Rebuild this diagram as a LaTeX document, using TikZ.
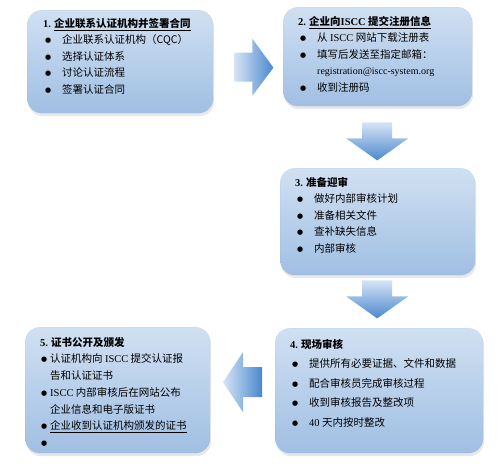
\documentclass[tikz,border=0pt]{standalone}
\usepackage{fontspec}
\setmainfont{Noto Sans CJK SC}
\newfontfamily\lat{Liberation Serif}
\newfontfamily\dejavu{DejaVu Sans}
\usepackage{xcolor}
\usetikzlibrary{positioning,calc,shadows}
\definecolor{boxtop}{RGB}{208,224,242}
\definecolor{boxbot}{RGB}{160,191,227}
\definecolor{arlight}{RGB}{214,228,245}
\definecolor{ardark}{RGB}{74,136,206}
\newcommand{\bdot}{\raisebox{1.2pt}{\fontsize{7}{7}\selectfont\dejavu ●}}
\newcommand{\bul}{\makebox[19pt][l]{\hspace{2pt}\bdot}}
\newcommand{\bulc}{\makebox[10pt][l]{\hspace{1pt}\bdot}}

\begin{document}
\begin{tikzpicture}[
  x=1pt,y=-1pt,
  box/.style={rounded corners=15pt,anchor=north west,top color=boxtop,bottom color=boxbot,
    draw=boxbot!90!black,draw opacity=.25,
    drop shadow={shadow xshift=1pt,shadow yshift=-3pt,opacity=.18}},
  txt/.style={align=left,inner sep=0pt,font=\fontsize{10.5}{16.5}\selectfont},
  harr/.style={left color=arlight,right color=ardark},
  varr/.style={top color=arlight,bottom color=ardark}
]
\useasboundingbox (0,0) rectangle (500,469);
% steps
\node[box,minimum width=186pt,minimum height=103pt] (b1) at (27,10) {};
\node[box,minimum width=189pt,minimum height=99pt] (b2) at (283,7) {};
\node[box,minimum width=195pt,minimum height=107pt] (b3) at (280,168) {};
\node[box,minimum width=208pt,minimum height=125pt] (b4) at (275,328) {};
\node[box,minimum width=185pt,minimum height=126pt] (b5) at (25,327) {};
\node[txt,below right=8pt and 16pt of b1.north west] (t1) {%
  {\bfseries\lat 1.} \underline{\bfseries 企业联系认证机构并签署合同}\\
  \bul 企业联系认证机构（CQC）\\
  \bul 选择认证体系\\
  \bul 讨论认证流程\\
  \bul 签署认证合同};
\node[txt,below right=9pt and 15pt of b2.north west] (t2) {%
  {\bfseries\lat 2.} \underline{\bfseries 企业向{\lat ISCC} 提交注册信息}\\
  \bul 从 {\lat ISCC} 网站下载注册表\\
  \bul 填写后发送至指定邮箱：\\
  \hspace{19pt}{\lat\fontsize{10}{16.5}\selectfont registration@iscc-system.org}\\
  \bul 收到注册码};
\node[txt,below right=9pt and 15pt of b3.north west] (t3) {%
  {\bfseries\lat 3.} {\bfseries 准备迎审}\\
  \bul 做好内部审核计划\\
  \bul 准备相关文件\\
  \bul 查补缺失信息\\
  \bul 内部审核};
\node[txt,font=\fontsize{10.5}{19.5}\selectfont,below right=11pt and 15pt of b4.north west] (t4) {%
  {\bfseries\lat 4.} {\bfseries 现场审核}\\
  \bul 提供所有必要证据、文件和数据\\
  \bul 配合审核员完成审核过程\\
  \bul 收到审核报告及整改项\\
  \bul {\lat 40} 天内按时整改};
\node[txt,font=\fontsize{10.5}{16.7}\selectfont,below right=10pt and 15pt of b5.north west] (t5) {%
  {\bfseries\lat 5.} {\bfseries 证书公开及颁发}\\
  \bulc 认证机构向 {\lat ISCC} 提交认证报\\
  \hspace{10pt}告和认证证书\\
  \bulc {\lat ISCC} 内部审核后在网站公布\\
  \hspace{10pt}企业信息和电子版证书\\
  \bulc \underline{企业收到认证机构颁发的证书}\\
  \bulc};
% block arrows
\coordinate (a12) at ($(b1.east)+(21,6)$);
\coordinate (a23) at ($(b2.south)+(-0.5,16)$);
\coordinate (a34) at ($(b3.south)+(-0.5,5)$);
\coordinate (a45) at ($(b4.west)+(-13,-8.5)$);
\path[harr] (a12) ++(0,-15) -- ++(18,0) -- ++(0,-14) -- ++(21,29)
  -- ++(-21,28) -- ++(0,-14) -- ++(-18,0) -- cycle;
\path[varr] (a23) ++(-15,0) -- ++(30,0) -- ++(0,16) -- ++(16,0) -- ++(-31,22)
  -- ++(-31,-22) -- ++(16,0) -- cycle;
\path[varr] (a34) ++(-15,0) -- ++(30,0) -- ++(0,16) -- ++(16,0) -- ++(-31,22)
  -- ++(-31,-22) -- ++(16,0) -- cycle;
\path[harr] (a45) ++(0,-15) -- ++(-19,0) -- ++(0,-15) -- ++(-20,30)
  -- ++(20,30) -- ++(0,-15) -- ++(19,0) -- cycle;
\end{tikzpicture}
\end{document}
